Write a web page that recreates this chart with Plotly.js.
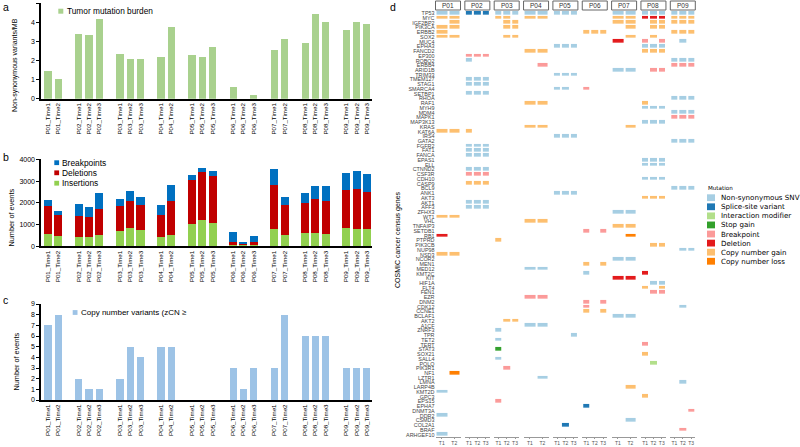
<!DOCTYPE html>
<html><head><meta charset="utf-8">
<script src="https://cdn.plot.ly/plotly-3.0.1.min.js"></script>
<style>html,body{margin:0;padding:0;background:#fff}#chart{width:800px;height:447px}</style>
</head><body><div id="chart"></div>
<script>
// ---------------- DATA ----------------
const samples = ["P01_Time1","P01_Time2","P02_Time1","P02_Time2","P02_Time3","P03_Time1","P03_Time2","P03_Time3",
  "P04_Time1","P04_Time2","P05_Time1","P05_Time2","P05_Time3","P06_Time1","P06_Time2","P06_Time3",
  "P07_Time1","P07_Time2","P08_Time1","P08_Time2","P08_Time3","P09_Time1","P09_Time2","P09_Time3"];
const tmb = [1.45,1.05,3.41,3.34,4.18,2.33,2.07,2.07,2.2,3.74,2.29,2.19,2.69,0.61,0,0.19,2.55,3.13,2.92,4.46,4.0,3.6,4.0,3.9];
const insertions  = [570,490,445,415,530,720,830,750,415,540,1040,1210,1070,60,45,60,810,535,610,600,570,845,810,780];
const deletions   = [1285,960,950,935,1190,1140,1250,1130,1025,1540,2020,2190,2180,155,80,140,2010,1350,1365,1590,1515,1745,1825,1735];
const breakpoints = [275,170,565,460,740,330,480,370,460,740,200,190,210,445,60,275,720,400,495,570,675,780,825,795];
const cnv = [7,8,2,1,1,2,5,4,5,5,0,0,0,3,1,3,3,8,6,6,6,3,3,3];

const genes = ["TP53","MYC","IGF2BP2","PIK3CA","ERBB2","SOX2","MUC4","EPHA3","FANCD2","EP300","ROBO2","ERBB4","ARID1B",
  "TRIM33","TMEM127","STAG1","SMARCA4","SETBP1","RHOA","RAF1","MYH9","MDM4","MAPK1","MAP3K13","KRAS","KAT6A","IRS4",
  "GATA2","FGFR2","FAT1","FANCA","EPAS1","ELL","CTNND2","CSF3R","CDH10","CASP9","BCL9","ANK1","AKT3","AKT1","AFF3",
  "ZFHX3","WT1","VHL","TNFAIP3","SETDB1","RB1","PTPRD","PIK3CB","NUP98","NSD3","NCOR2","MEN1","MED12","KMT2C","KIT",
  "HIF1A","FLT4","FEN1","EZR","DNM2","CDK12","CCNE1","BCLAF1","AKT2","A1CF","ZNRF3","TPR","TET2","TERT","STAT3","SOX21",
  "SALL4","POLQ","PIK3R1","NF1","LZTR1","LMNA","LARP4B","KMT2D","GPC3","EPS15","EPHA7","DNMT3A","DDR2","CSMD3","COL2A1",
  "BRAF","ARHGEF10"];
const patients = ["P01","P02","P03","P04","P05","P06","P07","P08","P09"];
const timeLabels = [["T1","T2"],["T1","T2","T3"],["T1","T2","T3"],["T1","T2"],["T1","T2","T3"],["T1","T2","T3"],["T1","T2"],["T1","T2","T3"],["T1","T2","T3"]];
const mutTypes = ["Non-synonymous SNV","Splice-site variant","Interaction modifier","Stop gain","Breakpoint","Deletion","Copy number gain","Copy number loss"];
const mutKeys = ["snv","splice","inter","stop","bp","del","gain","loss"];

const mutP01 = [["TP53","T1","snv"],["TP53","T2","snv"],["MYC","T1","gain"],["MYC","T2","gain"],["IGF2BP2","T2","gain"],
  ["PIK3CA","T1","gain"],["PIK3CA","T2","gain"],["ERBB2","T1","gain"],["SOX2","T1","gain"],["SOX2","T2","gain"],
  ["KAT6A","T1","gain"],["KAT6A","T2","gain"],["WT1","T1","gain"],["WT1","T2","gain"],["RB1","T1","del"],
  ["NSD3","T1","gain"],["NSD3","T2","gain"],["NF1","T2","loss"],["KMT2D","T1","snv"],["DDR2","T1","snv"],["ARHGEF10","T1","snv"]];
const mutP02 = [["TP53","T1","splice"],["TP53","T2","splice"],["TP53","T3","splice"],["EP300","T1","bp"],["EP300","T2","bp"],["EP300","T3","bp"],
  ["ROBO2","T1","snv"],["TMEM127","T1","snv"],["TMEM127","T2","snv"],["TMEM127","T3","snv"],["STAG1","T1","snv"],["STAG1","T2","snv"],["STAG1","T3","snv"],
  ["SETBP1","T1","snv"],["SETBP1","T2","snv"],["SETBP1","T3","snv"],["KAT6A","T1","gain"],["FGFR2","T1","snv"],["FGFR2","T2","snv"],["FGFR2","T3","snv"],
  ["FAT1","T1","snv"],["FAT1","T2","snv"],["FAT1","T3","snv"],["FANCA","T1","snv"],["FANCA","T2","snv"],["FANCA","T3","snv"],
  ["CTNND2","T1","snv"],["CTNND2","T2","snv"],["CTNND2","T3","snv"],["CSF3R","T1","bp"],["CSF3R","T2","bp"],["CSF3R","T3","bp"],
  ["CASP9","T1","gain"],["CASP9","T2","gain"],["CASP9","T3","gain"],["AKT1","T1","snv"],["AKT1","T2","snv"],["AKT1","T3","snv"],
  ["AFF3","T1","snv"],["AFF3","T2","snv"],["AFF3","T3","snv"]];
const mutP03 = [["TP53","T1","snv"],["TP53","T2","snv"],["TP53","T3","snv"],["MYC","T1","gain"],["MYC","T2","gain"],
  ["IGF2BP2","T2","gain"],["IGF2BP2","T3","gain"],["PIK3CA","T2","gain"],["PIK3CA","T3","gain"],["SOX2","T2","gain"],["SOX2","T3","gain"],
  ["PTPRD","T1","gain"],["AKT2","T2","gain"],["AKT2","T3","gain"],["ZNRF3","T1","snv"],["TET2","T1","snv"],["STAT3","T1","stop"],
  ["SALL4","T1","snv"],["PIK3R1","T2","bp"],["EPS15","T1","bp"]];
const mutP04 = [["TP53","T1","snv"],["TP53","T2","snv"],["MYC","T1","gain"],["MYC","T2","gain"],["FANCD2","T1","gain"],["FANCD2","T2","gain"],
  ["ERBB4","T2","bp"],["RAF1","T1","gain"],["RAF1","T2","gain"],["KRAS","T1","gain"],["KRAS","T2","gain"],["VHL","T1","gain"],["VHL","T2","gain"],
  ["MED12","T1","snv"],["MED12","T2","snv"],["EZR","T1","bp"],["EZR","T2","bp"],["A1CF","T1","snv"],["A1CF","T2","snv"],["LZTR1","T2","snv"]];
const mutP05 = [["TP53","T1","snv"],["TP53","T2","snv"],["TP53","T3","snv"],["EPHA3","T1","snv"],["EPHA3","T2","snv"],["EPHA3","T3","snv"],
  ["TRIM33","T1","snv"],["TRIM33","T2","snv"],["TRIM33","T3","snv"],["SMARCA4","T1","snv"],["SMARCA4","T2","snv"],
  ["IRS4","T1","snv"],["IRS4","T2","snv"],["IRS4","T3","snv"],["ANK1","T1","snv"],["ANK1","T2","snv"],["ANK1","T3","snv"],
  ["TPR","T3","snv"],["COL2A1","T2","splice"]];
const mutP06 = [["ERBB2","T1","gain"],["ERBB2","T2","gain"],["ERBB2","T3","gain"],["SMARCA4","T1","bp"],["SETDB1","T1","bp"],["SETDB1","T3","bp"],
  ["MEN1","T1","gain"],["MEN1","T3","gain"],["KMT2C","T1","snv"],["DNM2","T1","bp"],["DNM2","T3","bp"],["CDK12","T1","bp"],
  ["CCNE1","T1","gain"],["CCNE1","T3","gain"],["EPHA7","T1","splice"]];
const mutP07 = [["TP53","T1","snv"],["TP53","T2","snv"],["MYC","T1","gain"],["MYC","T2","gain"],["IGF2BP2","T1","gain"],["IGF2BP2","T2","gain"],
  ["PIK3CA","T2","gain"],["SOX2","T2","gain"],["MUC4","T1","del"],["ARID1B","T1","snv"],["ARID1B","T2","snv"],["KRAS","T2","gain"],
  ["ZFHX3","T1","snv"],["ZFHX3","T2","snv"],["TNFAIP3","T1","gain"],["TNFAIP3","T2","gain"],["RB1","T2","loss"],
  ["NCOR2","T1","snv"],["NCOR2","T2","snv"],["KIT","T1","del"],["KIT","T2","del"],["BCLAF1","T1","snv"],["BCLAF1","T2","snv"],
  ["LARP4B","T2","gain"],["CSMD3","T2","snv"]];
const mutP08 = [["TP53","T1","snv"],["TP53","T2","snv"],["TP53","T3","snv"],["MYC","T1","del"],["MYC","T2","del"],["MYC","T3","del"],
  ["IGF2BP2","T2","gain"],["IGF2BP2","T3","gain"],["PIK3CA","T2","gain"],["PIK3CA","T3","gain"],["SOX2","T2","gain"],
  ["MUC4","T1","bp"],["MUC4","T3","bp"],["EPHA3","T1","snv"],["EPHA3","T2","snv"],["EPHA3","T3","snv"],
  ["FANCD2","T1","gain"],["FANCD2","T2","gain"],["FANCD2","T3","gain"],["ARID1B","T2","bp"],["ARID1B","T3","bp"],["RAF1","T1","gain"],
  ["MYH9","T1","snv"],["MYH9","T2","snv"],["MYH9","T3","snv"],["MAP3K13","T1","snv"],["MAP3K13","T2","snv"],["MAP3K13","T3","snv"],
  ["EPAS1","T1","snv"],["EPAS1","T2","snv"],["EPAS1","T3","snv"],["ELL","T1","snv"],["ELL","T2","snv"],["ELL","T3","snv"],
  ["CDH10","T1","snv"],["CDH10","T2","snv"],["CDH10","T3","snv"],["AKT3","T1","gain"],["AKT3","T2","gain"],["AKT3","T3","gain"],
  ["PIK3CB","T2","gain"],["PIK3CB","T3","gain"],["KMT2C","T1","del"],["HIF1A","T2","snv"],["HIF1A","T3","snv"],
  ["FLT4","T1","gain"],["FLT4","T3","gain"],["FEN1","T2","bp"],["FEN1","T3","bp"],["TERT","T1","bp"],["SOX21","T1","gain"],
  ["POLQ","T2","inter"],["GPC3","T1","gain"]];
const mutP09 = [["TP53","T1","snv"],["TP53","T2","snv"],["TP53","T3","snv"],["MYC","T1","gain"],["MYC","T2","gain"],["MYC","T3","gain"],
  ["IGF2BP2","T1","gain"],["IGF2BP2","T2","gain"],["IGF2BP2","T3","gain"],["ERBB2","T1","gain"],["ERBB2","T2","gain"],["ERBB2","T3","gain"],
  ["MUC4","T2","snv"],["ROBO2","T1","snv"],["ROBO2","T2","snv"],["ROBO2","T3","snv"],["ERBB4","T1","bp"],["ERBB4","T2","bp"],["ERBB4","T3","bp"],
  ["RHOA","T1","snv"],["RHOA","T2","snv"],["RHOA","T3","snv"],["MDM4","T1","snv"],["MDM4","T2","snv"],["MDM4","T3","snv"],
  ["MAPK1","T1","bp"],["MAPK1","T2","bp"],["MAPK1","T3","bp"],["GATA2","T1","snv"],["GATA2","T2","snv"],["GATA2","T3","snv"],
  ["BCL9","T1","snv"],["BCL9","T2","snv"],["BCL9","T3","snv"],["NUP98","T2","snv"],["NUP98","T3","snv"],["CDK12","T2","snv"],
  ["LMNA","T2","snv"],["DNMT3A","T3","bp"],["BRAF","T2","bp"]];
const mutations = [mutP01,mutP02,mutP03,mutP04,mutP05,mutP06,mutP07,mutP08,mutP09];

// ---------------- STYLE ----------------
const W = 800, H = 447;
const X = v => v / W, Y = v => 1 - v / H;
const sans = "Liberation Sans, Arial, sans-serif";
const mutColors = ["#a6cee3","#1f78b4","#b2df8a","#33a02c","#fb9a99","#e31a1c","#fdbf6f","#ff7f00"];

// x positions with a gap between patients
const pos = []; let slot = -1, prev = null;
samples.forEach(s => { const p = s.split("_")[0]; if (prev !== null && p !== prev) slot++; slot++; pos.push(slot); prev = p; });

const traces = [];
traces.push({type:"bar", x:pos, y:tmb, xaxis:"x", yaxis:"y", width:0.7, marker:{color:"#a9d18e"}, hoverinfo:"skip"});
traces.push({type:"bar", x:pos, y:insertions, xaxis:"x2", yaxis:"y2", width:0.78, marker:{color:"#92d050"}, hoverinfo:"skip"});
traces.push({type:"bar", x:pos, y:deletions, xaxis:"x2", yaxis:"y2", width:0.78, marker:{color:"#c00000"}, hoverinfo:"skip"});
traces.push({type:"bar", x:pos, y:breakpoints, xaxis:"x2", yaxis:"y2", width:0.78, marker:{color:"#0070c0"}, hoverinfo:"skip"});
traces.push({type:"bar", x:pos, y:cnv, xaxis:"x3", yaxis:"y3", width:0.7, marker:{color:"#9dc3e6"}, hoverinfo:"skip"});

const nT = mutTypes.length;
const cscale = [];
mutColors.forEach((c,i) => { cscale.push([i/nT, c]); cscale.push([(i+1)/nT, c]); });

const layout = {
  width: W, height: H, margin:{l:0,r:0,t:0,b:0}, paper_bgcolor:"#fff", plot_bgcolor:"rgba(0,0,0,0)",
  showlegend:false, barmode:"stack", font:{family:sans, color:"#000"},
  shapes:[], annotations:[]
};

const xr = [-0.7, 31.5];
function barX(anchor){ return {domain:[X(40.7), X(372)], anchor:anchor, range:xr, tickvals:pos, ticktext:samples, tickangle:-90,
  tickfont:{size:6.2, family:sans}, showline:true, linecolor:"#000", linewidth:2, ticks:"", showgrid:false, zeroline:false, fixedrange:true}; }
function barY(anchor, d0, d1, range, dtick){ return {domain:[Y(d0), Y(d1)], anchor:anchor, range:range, dtick:dtick,
  tickfont:{size:7, family:sans}, showline:true, linecolor:"#000", linewidth:1.3, ticks:"outside", ticklen:3, tickcolor:"#000",
  showgrid:false, zeroline:false, fixedrange:true}; }
layout.xaxis = barX("y");  layout.yaxis = barY("x", 98.7, 3.3, [0,5], 1);
layout.xaxis2 = barX("y2"); layout.yaxis2 = barY("x2", 246.3, 159.3, [0,4000], 1000);
layout.xaxis3 = barX("y3"); layout.yaxis3 = barY("x3", 400, 304, [0,9], 1);

// panel d facets
const facetStart = 435.5, facetPitch = 29.35, facetW = 25;
layout.yaxis4 = {domain:[Y(437), Y(10.9)], anchor:"x4", type:"category", categoryorder:"array", categoryarray:genes,
  range:[genes.length-0.5, -0.5], tickfont:{size:5.4, family:sans, color:"#444"}, ticks:"", showline:false, showgrid:false,
  zeroline:false, fixedrange:true, tickmode:"array", tickvals:genes};
patients.forEach((p, k) => {
  const ax = 4 + k;
  const x0 = facetStart + k*facetPitch, x1 = x0 + facetW;
  const tl = timeLabels[k];
  layout["xaxis"+ax] = {domain:[X(x0), X(x1)], anchor:"y4", type:"category", categoryorder:"array", categoryarray:tl,
    range:[-0.5, tl.length-0.5], showline:true, linecolor:"#999", linewidth:1, ticks:"outside", ticklen:1, tickcolor:"#999",
    tickfont:{size:5, family:sans, color:"#555"}, ticklabelstandoff:0, showgrid:false, zeroline:false, fixedrange:true};
  const z = genes.map(() => tl.map(() => null));
  mutations[k].forEach(([g, t, m]) => { z[genes.indexOf(g)][tl.indexOf(t)] = mutKeys.indexOf(m) + 0.5; });
  traces.push({type:"heatmap", x:tl, y:genes, z:z, xaxis:"x"+ax, yaxis:"y4", zmin:0, zmax:nT, colorscale:cscale,
    showscale:false, xgap:2, ygap:1.3, hoverinfo:"skip"});
  layout.shapes.push({type:"rect", xref:"paper", yref:"paper", x0:X(x0), x1:X(x1), y0:Y(10), y1:Y(1),
    line:{color:"#666", width:1}, fillcolor:"#fff", layer:"below"});
  layout.annotations.push({xref:"paper", yref:"paper", x:X((x0+x1)/2), y:Y(5.6), text:p, showarrow:false,
    xanchor:"center", yanchor:"middle", font:{size:6.5, family:sans, color:"#333"}});
});

// panel letters
[["a",1,7],["b",1,157],["c",1,300],["d",388,7]].forEach(([t,x,y]) => layout.annotations.push({xref:"paper", yref:"paper",
  x:X(x), y:Y(y), text:t, showarrow:false, xanchor:"left", yanchor:"middle", font:{size:10.5, family:sans}}));
// y titles
[["Non-synonymous variants/MB",15,65,7],["Number of events",10.5,218,7.3],["Number of events",15.5,362,7.3],["COSMIC cancer census genes",398,240,7]]
  .forEach(([t,x,y,s]) => layout.annotations.push({xref:"paper", yref:"paper", x:X(x), y:Y(y), text:t, textangle:-90,
    showarrow:false, xanchor:"center", yanchor:"middle", font:{size:s, family:sans}}));

// legends for a, b, c
function legendItem(label, color, sx, sy, size, fs, tx, fam){
  layout.shapes.push({type:"rect", xref:"paper", yref:"paper", x0:X(sx), x1:X(sx+size[0]), y0:Y(sy+size[1]/2), y1:Y(sy-size[1]/2),
    line:{width:0}, fillcolor:color});
  layout.annotations.push({xref:"paper", yref:"paper", x:X(tx), y:Y(sy), text:label, showarrow:false, xanchor:"left",
    yanchor:"middle", font:{size:fs, family:fam||sans, color:"#000"}});
}
legendItem("Tumor mutation burden", "#a9d18e", 58.3, 11.2, [5,5], 8.3, 64.5);
legendItem("Breakpoints", "#0070c0", 54.3, 162.7, [4.8,4.8], 8.4, 60);
legendItem("Deletions", "#c00000", 54.3, 172.8, [4.8,4.8], 8.4, 60);
legendItem("Insertions", "#92d050", 54.3, 183.2, [4.8,4.8], 8.4, 60);
legendItem("Copy number variants (zCN \u2265", "#9dc3e6", 72.7, 312.5, [4.8,4.8], 8, 79);

// legend for d
layout.annotations.push({xref:"paper", yref:"paper", x:X(705.5), y:Y(187.7), text:"Mutation", showarrow:false,
  xanchor:"left", yanchor:"middle", font:{size:5.6, family:"DejaVu Sans", color:"#000"}});
mutTypes.forEach((t,i) => legendItem(t, mutColors[i], 707, 197.7 + i*9.08, [8,6.8], 7.1, 718.5, "DejaVu Sans"));

Plotly.newPlot("chart", traces, layout, {staticPlot:true, displayModeBar:false});
</script></body></html>
